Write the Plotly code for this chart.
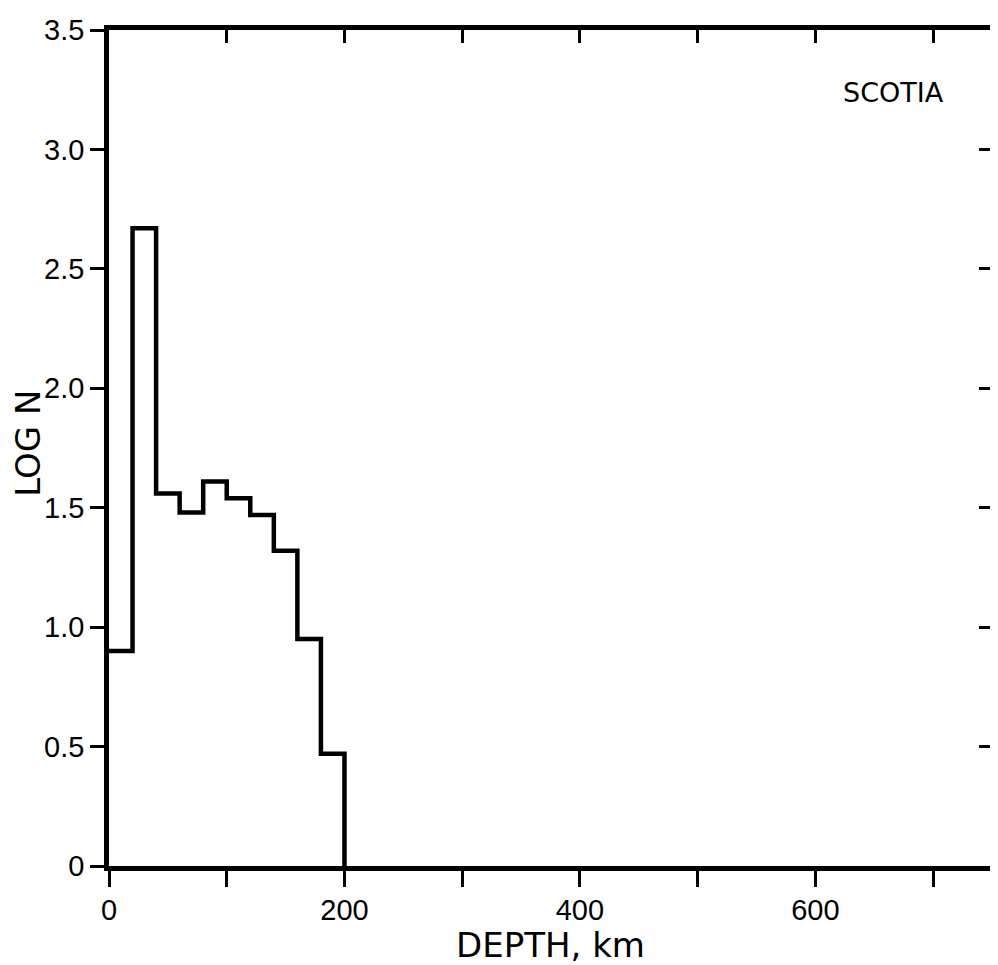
import plotly.graph_objects as go

# Depth bins (km) and log10 of event counts, Scotia region
bin_edges = [0, 20, 40, 60, 80, 100, 120, 140, 160, 180, 200]
log_n = [0.90, 2.67, 1.56, 1.48, 1.61, 1.54, 1.47, 1.32, 0.95, 0.47]

x_ticks = [0, 100, 200, 300, 400, 500, 600, 700]
x_tick_text = ["0", "", "200", "", "400", "", "600", ""]
y_ticks = [0, 0.5, 1.0, 1.5, 2.0, 2.5, 3.0, 3.5]
y_tick_text = ["0", "0.5", "1.0", "1.5", "2.0", "2.5", "3.0", "3.5"]

FONT = "DejaVu Sans"
TICKFONT = "Liberation Sans"

xs = bin_edges[:-1] + [bin_edges[-1]]
ys = log_n + [0]

fig = go.Figure()
fig.add_trace(go.Scatter(
    x=xs, y=ys, mode="lines", line=dict(color="black", width=4.5, shape="hv"),
    cliponaxis=False, showlegend=False, hoverinfo="skip"))
fig.add_trace(go.Scatter(x=[None], y=[None], xaxis="x2", yaxis="y2",
                         showlegend=False, hoverinfo="skip"))

fig.update_layout(
    width=990, height=957,
    margin=dict(l=101, r=6, t=22, b=99),
    paper_bgcolor="white", plot_bgcolor="white",
    font=dict(family=FONT, color="black", size=27),
    xaxis=dict(range=[0, 750], tickvals=x_ticks, ticktext=x_tick_text,
               ticks="outside", ticklen=16, tickwidth=3, tickcolor="black",
               showline=True, linewidth=4.5, linecolor="black", showgrid=False,
               zeroline=False, tickfont=dict(size=29, family=TICKFONT),
               ticklabelstandoff=-2, automargin=False,
               title=dict(text="DEPTH, km", font=dict(size=34, family=FONT), standoff=2)),
    yaxis=dict(range=[0, 3.5], tickvals=y_ticks, ticktext=y_tick_text,
               ticks="outside", ticklen=14, tickwidth=3, tickcolor="black",
               showline=True, linewidth=4.5, linecolor="black", showgrid=False,
               zeroline=False, tickfont=dict(size=29, family=TICKFONT),
               automargin=False),
    xaxis2=dict(range=[0, 750], overlaying="x", side="top",
                tickvals=[100, 200, 300, 400, 500, 600, 700], showticklabels=False,
                ticks="inside", ticklen=13, tickwidth=3, tickcolor="black",
                showline=True, linewidth=4.5, linecolor="black", showgrid=False,
                zeroline=False, automargin=False),
    yaxis2=dict(range=[0, 3.5], overlaying="y", side="right",
                tickvals=[0.5, 1.0, 1.5, 2.0, 2.5, 3.0], showticklabels=False,
                ticks="inside", ticklen=13, tickwidth=3, tickcolor="black",
                showline=True, linewidth=4.5, linecolor="black", showgrid=False,
                zeroline=False, automargin=False),
    annotations=[
        dict(text="SCOTIA", x=666, y=3.24, xref="x", yref="y",
             showarrow=False, font=dict(size=27, family=FONT)),
        dict(text="LOG N", x=-0.092, y=0.506, xref="paper", yref="paper",
             xanchor="center", yanchor="middle",
             textangle=-90, showarrow=False, font=dict(size=34, family=FONT)),
    ],
)

fig.write_html("out.html")
